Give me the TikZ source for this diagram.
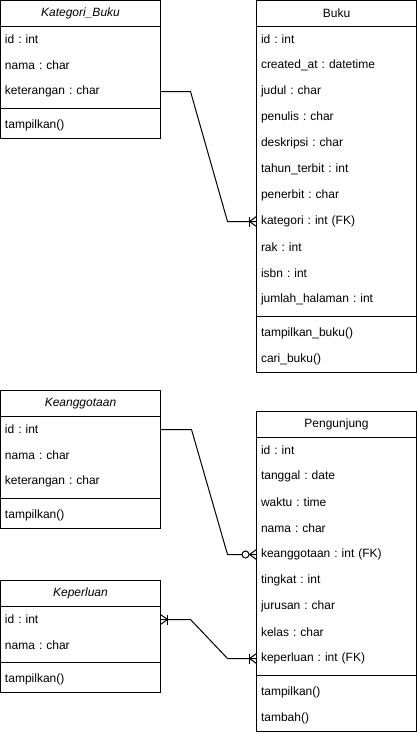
\documentclass[tikz,border=0pt]{standalone}
\usepackage{fontspec}
\setmainfont{Liberation Sans}
\usepackage{tikz}
\usetikzlibrary{shapes,arrows,positioning,calc}
\frenchspacing

\tikzset{
    classhead/.style={rectangle, draw, line width=1pt, outer sep=0pt, inner sep=0pt, minimum width=160pt, minimum height=26pt, font=\fontsize{12}{14}\selectfont},
    abstracthead/.style={classhead, font=\fontsize{12}{14}\selectfont\itshape},
    classrow/.style={rectangle, outer sep=0pt, inner xsep=4.5pt, inner ysep=0pt, text width=151pt, minimum height=26pt, align=left, font=\fontsize{12}{14}\selectfont},
    classline/.style={line width=1pt},
    relline/.style={line width=1pt}
}

\begin{document}
\begin{tikzpicture}
    \useasboundingbox (-0.5pt,0.5pt) rectangle (416.5pt,-733.5pt);

    % Kategori_Buku
    \node[abstracthead] (kb) at (80pt,-13pt) {Kategori\_Buku};
    \node[classrow, below=0pt of kb] (kb1) {id : int};
    \node[classrow, below=0pt of kb1] (kb2) {nama : char};
    \node[classrow, below=0pt of kb2] (kb3) {keterangan : char};
    \node[classrow, below=8pt of kb3] (kbm1) {tampilkan()};
    \draw[classline] (kb.north west) rectangle (kbm1.south east);
    \draw[classline] ($(kbm1.north west)+(0,4pt)$) -- ($(kbm1.north east)+(0,4pt)$);

    % Buku
    \node[classhead] (b) at (336pt,-13pt) {Buku};
    \node[classrow, below=0pt of b] (b1) {id : int};
    \node[classrow, below=0pt of b1] (b2) {created\_at : datetime};
    \node[classrow, below=0pt of b2] (b3) {judul : char};
    \node[classrow, below=0pt of b3] (b4) {penulis : char};
    \node[classrow, below=0pt of b4] (b5) {deskripsi : char};
    \node[classrow, below=0pt of b5] (b6) {tahun\_terbit : int};
    \node[classrow, below=0pt of b6] (b7) {penerbit : char};
    \node[classrow, below=0pt of b7] (b8) {kategori : int (FK)};
    \node[classrow, below=0pt of b8] (b9) {rak : int};
    \node[classrow, below=0pt of b9] (b10) {isbn : int};
    \node[classrow, below=0pt of b10] (b11) {jumlah\_halaman : int};
    \node[classrow, below=8pt of b11] (bm1) {tampilkan\_buku()};
    \node[classrow, below=0pt of bm1] (bm2) {cari\_buku()};
    \draw[classline] (b.north west) rectangle (bm2.south east);
    \draw[classline] ($(bm1.north west)+(0,4pt)$) -- ($(bm1.north east)+(0,4pt)$);

    % Keanggotaan
    \node[abstracthead] (ka) at (80pt,-403pt) {Keanggotaan};
    \node[classrow, below=0pt of ka] (ka1) {id : int};
    \node[classrow, below=0pt of ka1] (ka2) {nama : char};
    \node[classrow, below=0pt of ka2] (ka3) {keterangan : char};
    \node[classrow, below=8pt of ka3] (kam1) {tampilkan()};
    \draw[classline] (ka.north west) rectangle (kam1.south east);
    \draw[classline] ($(kam1.north west)+(0,4pt)$) -- ($(kam1.north east)+(0,4pt)$);

    % Keperluan
    \node[abstracthead] (kp) at (80pt,-593pt) {Keperluan};
    \node[classrow, below=0pt of kp] (kp1) {id : int};
    \node[classrow, below=0pt of kp1] (kp2) {nama : char};
    \node[classrow, below=8pt of kp2] (kpm1) {tampilkan()};
    \draw[classline] (kp.north west) rectangle (kpm1.south east);
    \draw[classline] ($(kpm1.north west)+(0,4pt)$) -- ($(kpm1.north east)+(0,4pt)$);

    % Pengunjung
    \node[classhead] (p) at (336pt,-424pt) {Pengunjung};
    \node[classrow, below=0pt of p] (p1) {id : int};
    \node[classrow, below=0pt of p1] (p2) {tanggal : date};
    \node[classrow, below=0pt of p2] (p3) {waktu : time};
    \node[classrow, below=0pt of p3] (p4) {nama : char};
    \node[classrow, below=0pt of p4] (p5) {keanggotaan : int (FK)};
    \node[classrow, below=0pt of p5] (p6) {tingkat : int};
    \node[classrow, below=0pt of p6] (p7) {jurusan : char};
    \node[classrow, below=0pt of p7] (p8) {kelas : char};
    \node[classrow, below=0pt of p8] (p9) {keperluan : int (FK)};
    \node[classrow, below=8pt of p9] (pm1) {tampilkan()};
    \node[classrow, below=0pt of pm1] (pm2) {tambah()};
    \draw[classline] (p.north west) rectangle (pm2.south east);
    \draw[classline] ($(pm1.north west)+(0,4pt)$) -- ($(pm1.north east)+(0,4pt)$);

    % relations
    \draw[relline] (kb3.east) -- ++(30pt,0) -- ($(b8.west)+(-29pt,0)$) -- (b8.west);
    \draw[relline] ($(b8.west)+(-7pt,5pt)$) -- ($(b8.west)+(-7pt,-5pt)$);
    \draw[relline] ($(b8.west)+(0,5pt)$) -- ($(b8.west)+(-7pt,0)$) -- ($(b8.west)+(0,-5pt)$);

    \draw[relline] (ka1.east) -- ++(31pt,0) -- ($(p5.west)+(-29pt,0)$) -- (p5.west);
    \draw[relline] ($(p5.west)+(0,5pt)$) -- ($(p5.west)+(-7pt,0)$) -- ($(p5.west)+(0,-5pt)$);
    \draw[relline, fill=white] ($(p5.west)+(-11pt,0)$) circle (3.5pt);

    \draw[relline] (kp1.east) -- ++(30pt,0) -- ($(p9.west)+(-29pt,0)$) -- (p9.west);
    \draw[relline] ($(p9.west)+(-7pt,5pt)$) -- ($(p9.west)+(-7pt,-5pt)$);
    \draw[relline] ($(p9.west)+(0,5pt)$) -- ($(p9.west)+(-7pt,0)$) -- ($(p9.west)+(0,-5pt)$);
    \draw[relline] ($(kp1.east)+(7pt,5pt)$) -- ($(kp1.east)+(7pt,-5pt)$);
    \draw[relline] ($(kp1.east)+(0,5pt)$) -- ($(kp1.east)+(7pt,0)$) -- ($(kp1.east)+(0,-5pt)$);
\end{tikzpicture}
\end{document}
